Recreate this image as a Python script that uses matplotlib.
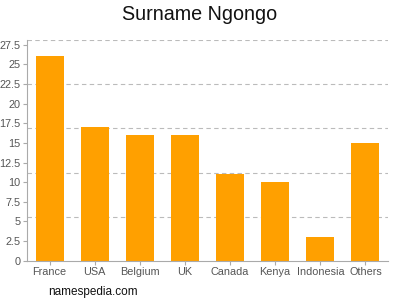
import matplotlib
matplotlib.use("Agg")
import matplotlib.pyplot as plt

categories = ["France", "USA", "Belgium", "UK", "Canada", "Kenya", "Indonesia", "Others"]
values = [26, 17, 16, 16, 11, 10, 3, 15]
yticks = [0, 2.5, 5, 7.5, 10, 12.5, 15, 17.5, 20, 22.5, 25, 27.5]
ytick_labels = ["0", "2.5", "5", "7.5", "10", "12.5", "15", "17.5", "20", "22.5", "25", "27.5"]
ymax = 28.06
grid_vals = [ymax * k / 5 for k in range(1, 6)]

plt.rcParams['font.family'] = ['Liberation Sans', 'DejaVu Sans']

fig = plt.figure(figsize=(4, 3), dpi=100)
ax = fig.add_axes([0.0675, 0.131, 0.9025, 0.7347])

for g in grid_vals:
    ax.axhline(g, color='#bbbbbb', linestyle=(0, (4, 3)), linewidth=0.8, zorder=0)

x = list(range(len(categories)))
ax.bar(x, values, width=0.62, color='#ffa000', zorder=2)

ax.set_xlim(-0.5, len(categories) - 0.5)
ax.set_ylim(0, ymax)
ax.set_yticks(yticks)
ax.set_yticklabels(ytick_labels)
ax.set_xticks(x)
ax.set_xticklabels(categories)

for s in ['top', 'right']:
    ax.spines[s].set_visible(False)
for s in ['left', 'bottom']:
    ax.spines[s].set_color('#aaaaaa')
    ax.spines[s].set_linewidth(0.8)

ax.tick_params(axis='both', colors='#aaaaaa', labelcolor='#555555', labelsize=7.8,
               length=3, width=0.8, pad=1.5)

fig.text(0.5, 0.95, "Surname Ngongo", ha='center', va='center', fontsize=14.2, color='#111111')
fig.text(0.12, 0.027, "namespedia.com", ha='left', va='center', fontsize=8.5, color='#111111')

fig.savefig("out.png", dpi=100)
